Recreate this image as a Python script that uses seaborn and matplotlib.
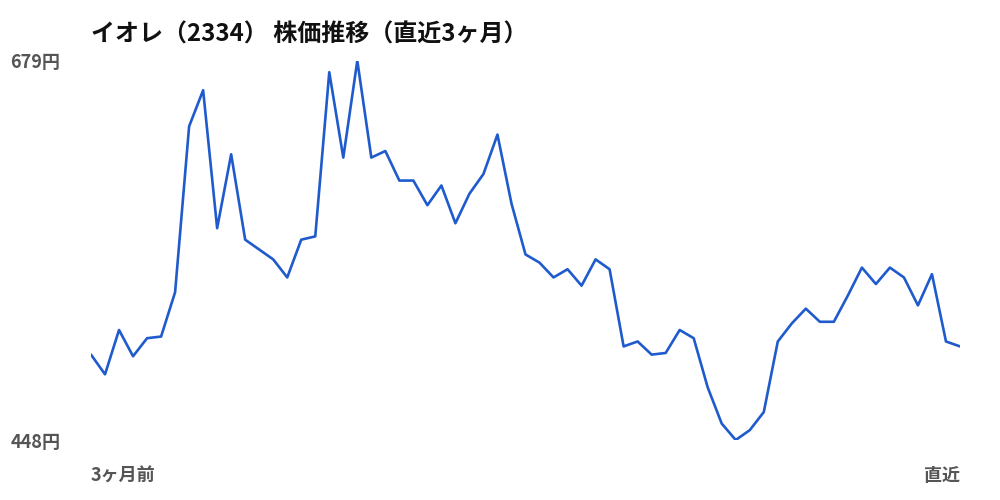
import matplotlib
matplotlib.use("Agg")
import matplotlib.pyplot as plt
import seaborn as sns
import pandas as pd

# Data (daily closes over ~3 months)
prices = [
    500, 488, 515, 499, 510, 511, 538, 639, 661, 577,
    622, 570, 564, 558, 547, 570, 572, 672, 620, 679,
    620, 624, 606, 606, 591, 603, 580, 598, 610, 634,
    592, 561, 556, 547, 552, 542, 558, 552, 505, 508,
    500, 501, 515, 510, 480, 458, 448, 454, 465, 508,
    519, 528, 520, 520, 536, 553, 543, 553, 547, 530,
    549, 508, 505,
]
title = "イオレ（2334） 株価推移（直近3ヶ月）"
x_labels = ["3ヶ月前", "直近"]
y_unit = "円"

df = pd.DataFrame({"day": range(len(prices)), "price": prices})
lo, hi = min(prices), max(prices)

sns.set_style("white")
plt.rcParams["font.family"] = ["Noto Sans CJK JP", "DejaVu Sans"]

fig = plt.figure(figsize=(10, 5), dpi=100)
ax = fig.add_axes([0.091, 0.12, 0.869, 0.7586])

sns.lineplot(data=df, x="day", y="price", ax=ax, color="#1f5bcc", linewidth=1.9)

ax.set_xlim(0, len(prices) - 1)
ax.set_ylim(lo, hi)

# y axis: only min / max
ax.set_yticks([lo, hi])
ax.set_yticklabels([f"{lo}{y_unit}", f"{hi}{y_unit}"])

# x axis: start / end
ax.set_xticks([0, len(prices) - 1])
xt = ax.set_xticklabels(x_labels)
xt[0].set_ha("left")
xt[1].set_ha("right")

ax.tick_params(axis="y", length=0, pad=22, labelsize=13, labelcolor="#555555")
ax.tick_params(axis="x", length=0, pad=19, labelsize=13, labelcolor="#555555")
for lbl in ax.get_xticklabels() + ax.get_yticklabels():
    lbl.set_fontweight("bold")

ax.set_xlabel("")
ax.set_ylabel("")
sns.despine(ax=ax, left=True, bottom=True)

ax.set_title(title, loc="left", fontsize=17.3, fontweight="bold", color="#111111", pad=13.5)

fig.savefig("out.png", dpi=100, facecolor="white")
